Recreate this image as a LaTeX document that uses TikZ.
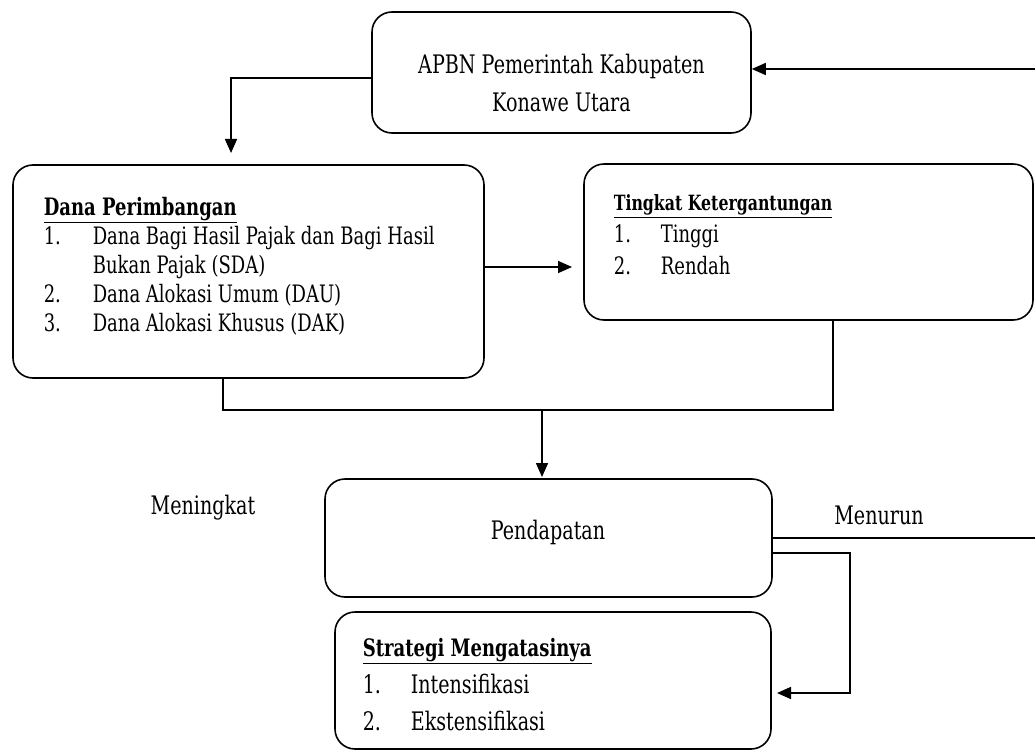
\documentclass[tikz,border=0pt]{standalone}
\usepackage{fontspec}
\setmainfont[FakeStretch=0.75]{DejaVu Serif}
\usetikzlibrary{arrows.meta}

\newcommand{\numitem}[2]{\makebox[#1][l]{#2}}

\begin{document}
\begin{tikzpicture}[x=1pt,y=-1pt,line width=1.6pt,
    panel/.style={draw,rounded corners=20pt,inner sep=0pt},
    txt/.style={inner sep=0pt,align=left,font=\fontsize{24}{29}\selectfont},
    cond/.style={inner sep=0pt,align=center,font=\fontsize{25.5}{38}\selectfont},
    arr/.style={-{Triangle[length=14pt,width=12pt]}}]
  \useasboundingbox (0,0) rectangle (1035,751);

  % boxes
  \node[panel,minimum width=379pt,minimum height=121pt] (apbn) at (561.5,72.5) {};
  \node[panel,minimum width=471pt,minimum height=213pt] (dana) at (248.5,271.5) {};
  \node[panel,minimum width=449pt,minimum height=156pt] (tingkat) at (808.5,242) {};
  \node[panel,minimum width=447pt,minimum height=118pt] (pend) at (548.5,538) {};
  \node[panel,minimum width=436pt,minimum height=137pt] (strat) at (553,680.5) {};

  % texts
  \node[cond] (apbnT) at (561.5,83) {APBN Pemerintah Kabupaten\\Konawe Utara};
  \node[txt,anchor=north west] (danaT) at (43,196)
    {\textbf{\underline{Dana Perimbangan}}\\
     \numitem{49pt}{1.}Dana Bagi Hasil Pajak dan Bagi Hasil\\
     \hspace*{49pt}Bukan Pajak (SDA)\\
     \numitem{49pt}{2.}Dana Alokasi Umum (DAU)\\
     \numitem{49pt}{3.}Dana Alokasi Khusus (DAK)};
  \node[txt,anchor=north west,font=\fontsize{24}{32}\selectfont] (tingkatT) at (613,194)
    {{\fontsize{21}{35}\selectfont\textbf{\underline{Tingkat Ketergantungan}}}\\
     \numitem{47pt}{1.}Tinggi\\
     \numitem{47pt}{2.}Rendah};
  \node[cond] (pendT) at (548,532) {Pendapatan};
  \node[cond] (naik) at (203,508) {Meningkat};
  \node[cond] (turun) at (879,515) {Menurun};
  \node[txt,anchor=north west,font=\fontsize{25.5}{37}\selectfont] (stratT) at (362,637)
    {{\fontsize{24}{38}\selectfont\textbf{\underline{Strategi Mengatasinya}}}\\
     \numitem{48pt}{1.}Intensifikasi\\
     \numitem{48pt}{2.}Ekstensifikasi};

  % connectors
  \coordinate (rtop) at (1035,69);
  \coordinate (rmid) at (1035,538);
  \coordinate (danaIn) at (231,153);
  \coordinate (join) at (542,410);
  \coordinate (pendIn) at (542,477);
  \coordinate (bend) at (850,693);
  \draw[arr] (rtop) -- (rtop -| apbn.east);
  \draw[arr] (apbn.west |- 0,78) -| (danaIn);
  \draw[arr] (dana.east |- 0,267) -- (572,267);
  \draw (dana.south -| 223,0) |- (join) -| (tingkat.south -| 833,0);
  \draw[arr] (join) -- (pendIn);
  \draw (pend.east) -- (rmid);
  \draw[arr] (pend.east |- 0,553) -| (bend) -- (777,693);
\end{tikzpicture}
\end{document}
